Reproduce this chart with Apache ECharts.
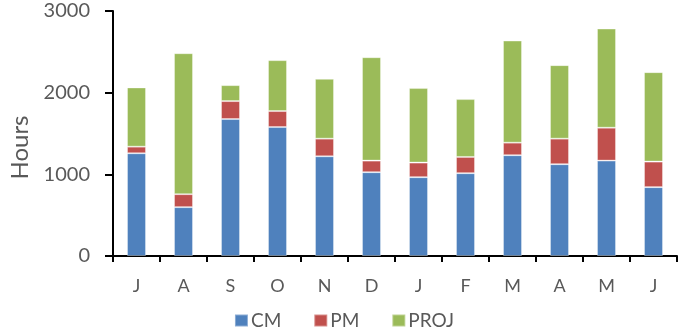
<!DOCTYPE html>
<html>
<head>
<meta charset="utf-8">
<script src="https://cdn.jsdelivr.net/npm/echarts@6/dist/echarts.min.js"></script>
<style>
  html, body { margin: 0; padding: 0; background: #fff; }
  #chart { width: 688px; height: 332px; }
</style>
</head>
<body>
<div id="chart"></div>
<script>
// Monthly hours by work type (stacked)
const months = ['J', 'A', 'S', 'O', 'N', 'D', 'J', 'F', 'M', 'A', 'M', 'J'];
const cmHours   = [1258, 598, 1677, 1579, 1221, 1026, 965, 1014, 1234, 1124, 1168, 843];
const pmHours   = [81, 159, 220, 196, 216, 142, 179, 199, 154, 313, 403, 313];
const projHours = [725, 1726, 195, 623, 732, 1266, 912, 708, 1250, 900, 1214, 1095];
const yTicks = [0, 1000, 2000, 3000];

const FONT = 'Lato, "Open Sans", sans-serif';
const TEXT = '#595959';

const chart = echarts.init(document.getElementById('chart'), null, { renderer: 'canvas' });

function barSeries(name, data, color) {
  return {
    name: name,
    type: 'bar',
    stack: 'total',
    data: data,
    barWidth: 19,
    itemStyle: { color: color, borderColor: 'rgba(255,255,255,0.35)', borderWidth: 1 },
    emphasis: { disabled: true }
  };
}

chart.setOption({
  animation: false,
  textStyle: { fontFamily: FONT },
  grid: { left: 113, right: 11, top: 11, bottom: 76, containLabel: false },
  legend: {
    data: ['CM', 'PM', 'PROJ'],
    top: 306,
    left: 'center',
    itemWidth: 13,
    itemHeight: 12,
    itemGap: 32,
    icon: 'rect',
    textStyle: { color: TEXT, fontSize: 19, fontFamily: FONT, padding: [0, 0, 0, -2] }
  },
  xAxis: {
    type: 'category',
    data: months,
    boundaryGap: true,
    axisLine: { show: true, lineStyle: { color: '#000', width: 2 } },
    axisTick: { show: true, length: 6, lineStyle: { color: '#000', width: 2 } },
    axisLabel: { color: TEXT, fontSize: 18, margin: 21, fontFamily: FONT },
    splitLine: { show: false }
  },
  yAxis: {
    type: 'value',
    min: yTicks[0],
    max: yTicks[yTicks.length - 1],
    interval: 1000,
    name: 'Hours',
    nameLocation: 'middle',
    nameGap: 80,
    nameRotate: 90,
    nameTextStyle: { color: TEXT, fontSize: 24, fontFamily: FONT, padding: [0, 28, 0, 0] },
    axisLine: { show: true, lineStyle: { color: '#000', width: 2 } },
    axisTick: { show: true, length: 8, lineStyle: { color: '#000', width: 2 } },
    axisLabel: { color: TEXT, fontSize: 20, margin: 23, fontFamily: FONT, formatter: v => String(v) },
    splitLine: { show: false }
  },
  series: [
    barSeries('CM', cmHours, '#4F81BD'),
    barSeries('PM', pmHours, '#C0504D'),
    barSeries('PROJ', projHours, '#9BBB59')
  ]
});
</script>
</body>
</html>
